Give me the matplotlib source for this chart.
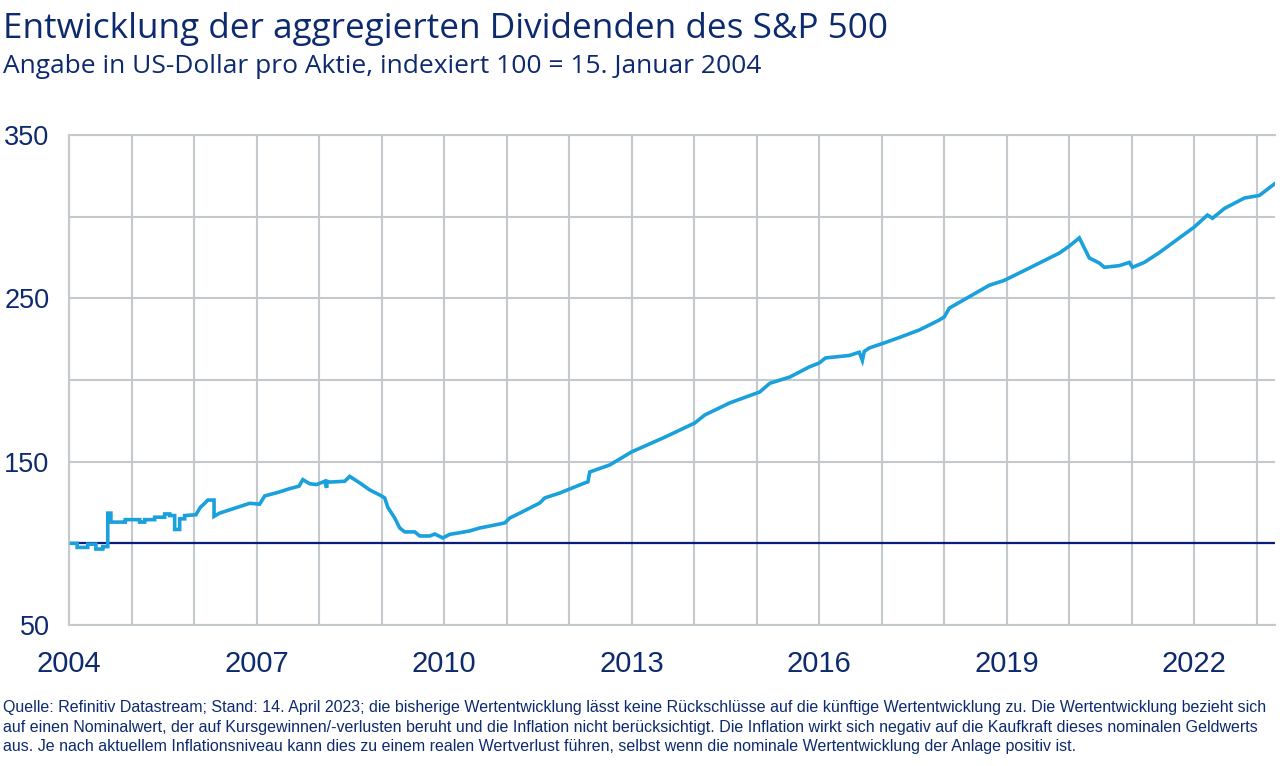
import numpy as np
import matplotlib
matplotlib.use("Agg")
import matplotlib.pyplot as plt
from matplotlib.ticker import FixedLocator

# Dividenden S&P 500, indexiert (100 = 15.01.2004)
years = [
    2004.04, 2004.13, 2004.13, 2004.30, 2004.30, 2004.43, 2004.43, 2004.54, 2004.54, 2004.62,
    2004.62, 2004.67, 2004.67, 2004.90, 2004.90, 2005.13, 2005.13, 2005.21, 2005.21, 2005.37,
    2005.37, 2005.53, 2005.53, 2005.61, 2005.61, 2005.69, 2005.69, 2005.77, 2005.77, 2005.85,
    2005.85, 2006.03, 2006.10, 2006.17, 2006.22, 2006.32, 2006.32, 2006.41, 2006.65, 2006.89,
    2007.05, 2007.13, 2007.37, 2007.53, 2007.68, 2007.74, 2007.85, 2007.96, 2008.09, 2008.12,
    2008.13, 2008.17, 2008.41, 2008.49, 2008.65, 2008.81, 2008.97, 2009.05, 2009.10, 2009.21,
    2009.29, 2009.37, 2009.53, 2009.61, 2009.77, 2009.85, 2009.98, 2010.09, 2010.25, 2010.41,
    2010.57, 2010.73, 2010.97, 2011.05, 2011.21, 2011.37, 2011.53, 2011.61, 2011.85, 2012.25,
    2012.30, 2012.33, 2012.65, 2013.00, 2013.53, 2014.01, 2014.17, 2014.57, 2015.05, 2015.21,
    2015.53, 2015.84, 2016.00, 2016.10, 2016.48, 2016.64, 2016.69, 2016.72, 2016.80, 2017.04,
    2017.28, 2017.60, 2017.92, 2018.00, 2018.08, 2018.40, 2018.72, 2018.96, 2019.20, 2019.52,
    2019.84, 2020.00, 2020.16, 2020.24, 2020.32, 2020.48, 2020.56, 2020.80, 2020.96, 2021.01,
    2021.20, 2021.44, 2021.76, 2022.00, 2022.21, 2022.29, 2022.48, 2022.80, 2023.04, 2023.28,
]
values = [
    100.0, 100.0, 97.5, 97.5, 99.5, 99.5, 96.5, 96.5, 98.0, 98.0,
    118.5, 118.5, 113.0, 113.0, 114.5, 114.5, 113.0, 113.0, 114.5, 114.5,
    116.0, 116.0, 118.0, 118.0, 117.0, 117.0, 108.5, 108.5, 115.0, 115.0,
    117.0, 117.5, 122.0, 124.5, 126.5, 126.5, 116.5, 118.5, 121.5, 124.5,
    124.0, 129.0, 131.5, 133.5, 135.0, 139.0, 136.5, 136.0, 138.0, 134.0,
    138.0, 137.5, 138.0, 141.0, 137.0, 132.7, 129.6, 127.8, 122.0, 115.5,
    109.4, 107.0, 107.0, 104.5, 104.5, 105.7, 103.3, 105.5, 106.5, 107.6,
    109.4, 110.6, 112.5, 115.5, 118.5, 121.6, 124.7, 127.8, 130.8, 137.0,
    137.6, 143.7, 148.0, 156.0, 165.0, 173.7, 178.6, 186.0, 192.7, 198.0,
    201.8, 208.0, 210.4, 213.5, 215.0, 217.0, 212.0, 217.5, 219.6, 222.7,
    226.0, 230.6, 236.7, 238.6, 244.0, 251.0, 258.0, 261.0, 265.5, 271.6,
    277.7, 282.0, 287.0, 280.8, 274.7, 271.6, 269.0, 270.0, 272.0, 269.0,
    272.0, 278.0, 287.0, 293.7, 301.0, 299.0, 305.0, 311.4, 313.0, 320.0,
]

y_major = [50, 150, 250, 350]
y_minor = [100, 200, 300]
x_major = [2004, 2007, 2010, 2013, 2016, 2019, 2022]
x_minor = list(range(2005, 2024))

title = "Entwicklung der aggregierten Dividenden des S&P 500"
subtitle = "Angabe in US-Dollar pro Aktie, indexiert 100 = 15. Januar 2004"
footnote = ("Quelle: Refinitiv Datastream; Stand: 14. April 2023; die bisherige Wertentwicklung lässt keine Rückschlüsse auf die künftige Wertentwicklung zu. Die Wertentwicklung bezieht sich\n"
            "auf einen Nominalwert, der auf Kursgewinnen/-verlusten beruht und die Inflation nicht berücksichtigt. Die Inflation wirkt sich negativ auf die Kaufkraft dieses nominalen Geldwerts\n"
            "aus. Je nach aktuellem Inflationsniveau kann dies zu einem realen Wertverlust führen, selbst wenn die nominale Wertentwicklung der Anlage positiv ist.")

navy = "#0d2a6e"
blue = "#1aa1dc"
grid_col = "#c4c9cd"

fig = plt.figure(figsize=(12.8, 7.66), dpi=100)
ax = fig.add_axes([69 / 1280, 1 - 625 / 766, (1275 - 69) / 1280, 490 / 766])

ax.plot(years, values, color=blue, lw=2.6, zorder=3, solid_joinstyle="miter")
ax.axhline(100, color="#0a1d78", lw=1.6, zorder=2)

ax.set_xlim(2004, 2023.29)
ax.set_ylim(50, 350)
ax.yaxis.set_major_locator(FixedLocator(y_major))
ax.yaxis.set_minor_locator(FixedLocator(y_minor))
ax.xaxis.set_major_locator(FixedLocator(x_major))
ax.xaxis.set_minor_locator(FixedLocator(x_minor))
ax.grid(True, which="both", color=grid_col, lw=1.5, zorder=1)
ax.tick_params(which="both", length=0)
ax.tick_params(axis="y", pad=14, labelsize=19.5, labelcolor=navy)
ax.tick_params(axis="x", pad=18, labelsize=21, labelcolor=navy)
for lab in ax.get_xticklabels() + ax.get_yticklabels():
    lab.set_family("Liberation Sans")
for lab in ax.get_yticklabels():
    lab.set_verticalalignment("center_baseline")

for side in ["left", "bottom", "top"]:
    ax.spines[side].set_color(grid_col)
    ax.spines[side].set_linewidth(1.5)
ax.spines["right"].set_visible(False)

fig.text(3 / 1280, 1 - 38 / 766, title, fontsize=25.3, color=navy, family="Open Sans", va="baseline")
fig.text(3 / 1280, 1 - 73 / 766, subtitle, fontsize=19, color=navy, family="Open Sans", va="baseline")
fig.text(3 / 1280, 1 - 700 / 766, footnote, fontsize=11.5, color=navy, va="top", linespacing=1.38,
         family=["Liberation Sans Narrow", "Liberation Sans"])

fig.savefig("out.png", dpi=100, facecolor="white")
